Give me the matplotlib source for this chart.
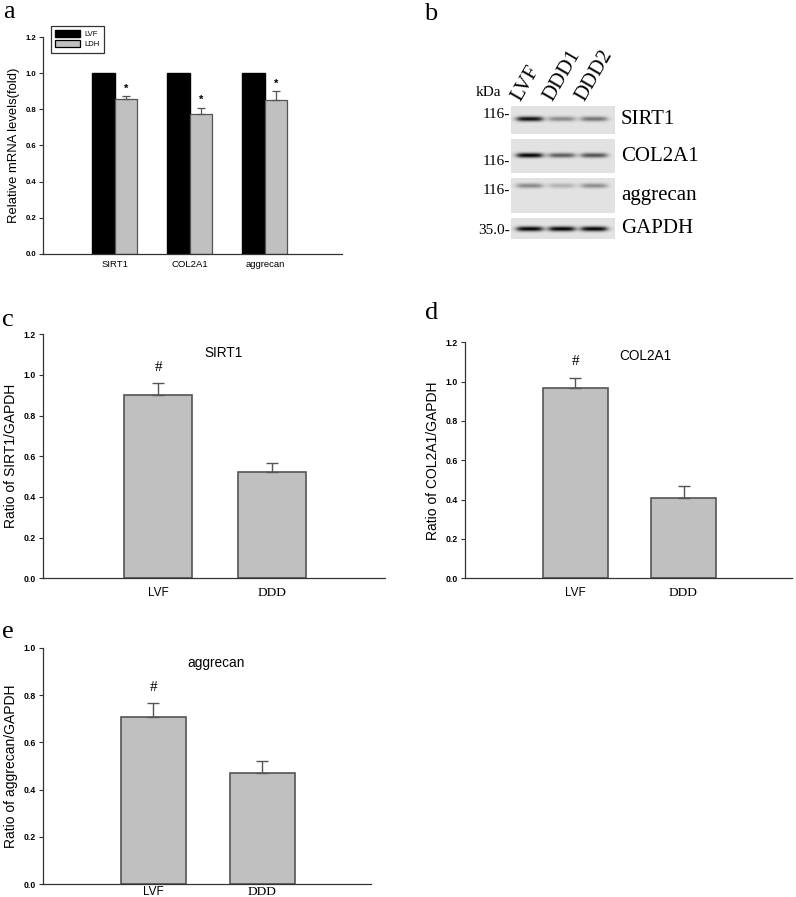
import numpy as np
import matplotlib.pyplot as plt

# ---- data ----
genes = ['SIRT1', 'COL2A1', 'aggrecan']
mrna_lvf = [1.0, 1.0, 1.0]
mrna_ldh = [0.855, 0.772, 0.853]
mrna_ldh_err = [0.018, 0.036, 0.048]

groups = ['LVF', 'DDD']
sirt1_ratio = [0.90, 0.525]
sirt1_err = [0.06, 0.04]
col2a1_ratio = [0.97, 0.41]
col2a1_err = [0.05, 0.06]
aggrecan_ratio = [0.708, 0.472]
aggrecan_err = [0.06, 0.05]

# western blot (panel b): band strength per lane (0..1)
blot_lanes = ['LVF', 'DDD1', 'DDD2']
blot_proteins = ['SIRT1', 'COL2A1', 'aggrecan', 'GAPDH']
blot_markers = ['116-', '116-', '116-', '35.0-']
blot_bands = [[0.95, 0.40, 0.50],
              [1.00, 0.60, 0.65],
              [0.40, 0.22, 0.38],
              [1.00, 1.00, 1.00]]

W, H = 796, 897
fig = plt.figure(figsize=(W / 100, H / 100), dpi=100)
plt.rcParams['font.family'] = ['Liberation Sans', 'DejaVu Sans']

BAR = '#c0c0c0'
EDGE = '#555555'
AX = '#333333'
serif = 'Liberation Serif'


def px_axes(x0, y0, x1, y1):
    # axes from pixel box of the reference picture
    return fig.add_axes([x0 / W, 1 - y1 / H, (x1 - x0) / W, (y1 - y0) / H])


def style(ax, ymax, step=0.2, tick_fs=6.3):
    for s in ['top', 'right']:
        ax.spines[s].set_visible(False)
    for s in ['left', 'bottom']:
        ax.spines[s].set_color(AX)
        ax.spines[s].set_linewidth(0.9)
    ax.set_ylim(0, ymax)
    ax.set_yticks(np.arange(0, ymax + 0.001, step))
    ax.set_yticklabels([f'{v:.1f}' for v in np.arange(0, ymax + 0.001, step)],
                       fontsize=tick_fs, fontweight='bold')
    ax.tick_params(axis='y', length=3, width=0.8, color=AX, pad=2)
    ax.tick_params(axis='x', length=0, pad=6)


def ratio_panel(ax, vals, errs, ymax, title, ylabel, title_pos, hash_y, xpad=6):
    x = np.arange(len(groups))
    ax.bar(x, vals, width=0.6, color=BAR, edgecolor=EDGE, linewidth=1.2,
           yerr=[np.zeros(len(errs)), errs], capsize=4,
           error_kw=dict(ecolor=EDGE, elinewidth=1.0, capthick=1.0))
    ax.set_xlim(-1.02, 2.0)
    style(ax, ymax)
    ax.set_xticks(x)
    ax.set_xticklabels(groups)
    ax.tick_params(axis='x', pad=xpad)
    labs = ax.get_xticklabels()
    labs[0].set_fontsize(8.5)
    labs[1].set_fontsize(9.6)
    labs[1].set_fontfamily(serif)
    ax.set_ylabel(ylabel, fontsize=10, labelpad=4)
    ax.text(title_pos[0], title_pos[1], title, fontsize=9.8, ha='center', va='center')
    ax.text(0, hash_y, '#', fontsize=11, family=serif, ha='center', va='center')


# ---- panel a ----
axa = px_axes(43, 37, 342, 254)
xa = np.arange(len(genes))
axa.bar(xa - 0.15, mrna_lvf, width=0.3, color='black', edgecolor='black', label='LVF')
axa.bar(xa + 0.15, mrna_ldh, width=0.3, color=BAR, edgecolor=EDGE, linewidth=0.9,
        yerr=[np.zeros(3), mrna_ldh_err], capsize=3,
        error_kw=dict(ecolor=EDGE, elinewidth=0.9, capthick=0.9), label='LDH')
for i in range(len(genes)):
    axa.text(xa[i] + 0.15, mrna_ldh[i] + mrna_ldh_err[i] + 0.015, '*',
             fontsize=8, fontweight='bold', ha='center', va='bottom')
axa.set_xlim(-0.96, 3.03)
style(axa, 1.2, tick_fs=5.6)
axa.set_xticks(xa)
axa.set_xticklabels(genes, fontsize=6.8)
axa.tick_params(axis='x', pad=4)
axa.set_ylabel('Relative mRNA levels(fold)', fontsize=9.4, labelpad=4)
leg = axa.legend(loc='upper left', bbox_to_anchor=(47 / W, 1 - 22 / H),
                 bbox_transform=fig.transFigure, fontsize=5.5, frameon=True,
                 fancybox=False, handlelength=3.2, handleheight=0.9,
                 borderpad=0.6, labelspacing=0.3, handletextpad=0.6)
leg.get_frame().set_edgecolor('black')
leg.get_frame().set_linewidth(0.9)
for h in leg.legend_handles:
    h.set_edgecolor('black')

# ---- panel b: synthetic blot ----
strips = [(105.7, 134.3), (139.3, 173.3), (177.7, 213.3), (217.7, 239.3)]
band_pos = [0.48, 0.48, 0.24, 0.54]
marker_y = [115, 161.7, 190, 230]
bx0, bx1 = 510.7, 614.3
lane_frac = [0.18, 0.49, 0.8]
for k, (y0, y1) in enumerate(strips):
    ax = px_axes(bx0, y0, bx1, y1)
    nh = int(round(y1 - y0)) * 4
    nw = int(round(bx1 - bx0)) * 4
    yy = np.linspace(0, 1, nh)[:, None]
    xx = np.linspace(0, 1, nw)[None, :]
    img = np.full((nh, nw), 0.89)
    sig_y = 1.7 / (y1 - y0)
    for j, f in enumerate(lane_frac):
        hx = 1 / (1 + np.exp(((np.abs(xx - f) - 0.12) / 0.02)))
        vy = np.exp(-0.5 * ((yy - band_pos[k]) / sig_y) ** 2)
        img -= 0.89 * blot_bands[k][j] * hx * vy
    ax.imshow(np.clip(img, 0, 1), cmap='gray', vmin=0, vmax=1, aspect='auto',
              interpolation='bilinear')
    ax.set_xticks([])
    ax.set_yticks([])
    for s in ax.spines.values():
        s.set_visible(False)
    fig.text(621 / W, 1 - ((y0 + y1) / 2) / H, blot_proteins[k], family=serif,
             fontsize=15, ha='left', va='center')
    fig.text(510 / W, 1 - marker_y[k] / H, blot_markers[k], family=serif,
             fontsize=11, ha='right', va='center')
fig.text(476 / W, 1 - 93 / H, 'kDa', family=serif, fontsize=11, ha='left', va='center')
for j, lane in enumerate(blot_lanes):
    lx = bx0 + lane_frac[j] * (bx1 - bx0) - 9
    fig.text(lx / W, 1 - 102 / H, lane, family=serif, fontsize=15,
             rotation=60, rotation_mode='anchor', ha='left', va='baseline')

# ---- panels c, d, e ----
axc = px_axes(42.7, 334.3, 385, 578.3)
ratio_panel(axc, sirt1_ratio, sirt1_err, 1.2, 'SIRT1', 'Ratio of SIRT1/GAPDH',
            (0.58, 1.108), 1.035)
axd = px_axes(465, 342.3, 791.7, 578.3)
ratio_panel(axd, col2a1_ratio, col2a1_err, 1.2, 'COL2A1', 'Ratio of COL2A1/GAPDH',
            (0.65, 1.13), 1.10)
axe = px_axes(42.7, 647.7, 370.7, 884.3)
ratio_panel(axe, aggrecan_ratio, aggrecan_err, 1.0, 'aggrecan', 'Ratio of aggrecan/GAPDH',
            (0.58, 0.934), 0.83, xpad=1)

# panel letters
for letter, (px, py) in zip('abcde', [(9, 12), (431, 14), (8, 320), (432, 313), (8, 632)]):
    fig.text(px / W, 1 - py / H, letter, family=serif, fontsize=19,
             ha='center', va='center')

fig.savefig('out.png', dpi=100)
